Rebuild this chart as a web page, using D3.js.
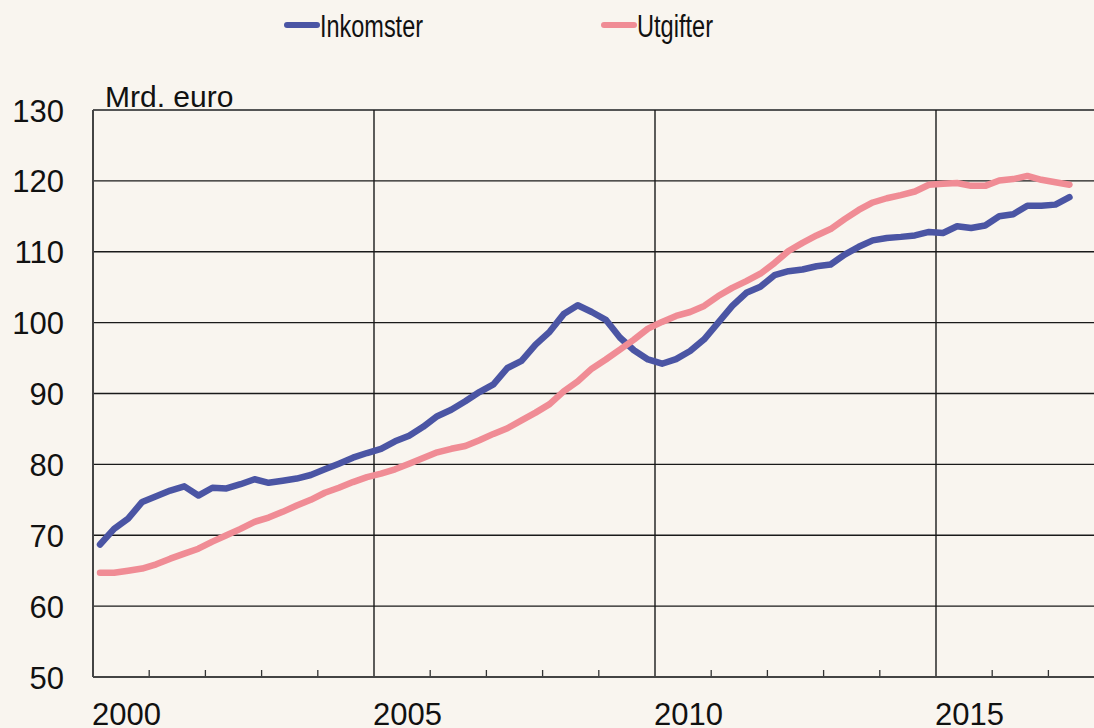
<!DOCTYPE html>
<html>
<head>
<meta charset="utf-8">
<script src="https://cdn.jsdelivr.net/npm/d3@7"></script>
<style>
  html, body { margin: 0; padding: 0; background: #f9f5ef; }
  svg { display: block; }
</style>
</head>
<body>
<div id="chart"></div>
<script>
////////////////////////////////////////////////////////////////////////////////
// Data (quarterly, Mrd. euro)
////////////////////////////////////////////////////////////////////////////////
var firstYear = 2000;
var quarters = [];
for (var q = 0; q < 70; q++) {
   quarters.push((firstYear + Math.floor(q / 4)) + "K" + (q % 4 + 1));
}

var inkomster = [
   68.7, 70.9, 72.35, 74.7, 75.5, 76.3, 76.9, 75.6, 76.7, 76.6,
   77.2, 77.9, 77.4, 77.7, 78.0, 78.5, 79.3, 80.1, 80.95, 81.6,
   82.2, 83.25, 84.05, 85.3, 86.8, 87.7, 88.9, 90.2, 91.3, 93.6,
   94.6, 96.9, 98.7, 101.2, 102.45, 101.5, 100.4, 97.9, 96.1, 94.8,
   94.2, 94.85, 96.0, 97.65, 100.0, 102.35, 104.2, 105.05, 106.7, 107.25,
   107.5, 107.95, 108.2, 109.6, 110.7, 111.6, 111.95, 112.1, 112.3, 112.8,
   112.65, 113.6, 113.35, 113.7, 115.0, 115.3, 116.5, 116.5, 116.65, 117.7
];

var utgifter = [
   64.7, 64.7, 65.0, 65.3, 65.9, 66.7, 67.4, 68.1, 69.1, 70.0,
   70.9, 71.9, 72.5, 73.3, 74.2, 75.0, 76.0, 76.7, 77.5, 78.2,
   78.7, 79.3, 80.1, 80.9, 81.7, 82.2, 82.6, 83.4, 84.3, 85.1,
   86.2, 87.3, 88.5, 90.3, 91.7, 93.5, 94.8, 96.2, 97.6, 99.15,
   100.1, 100.95, 101.5, 102.35, 103.75, 104.9, 105.85, 106.9, 108.4, 110.1,
   111.25, 112.3, 113.2, 114.6, 115.9, 116.95, 117.55, 118.0, 118.5, 119.45,
   119.6, 119.7, 119.3, 119.3, 120.05, 120.25, 120.7, 120.15, 119.8, 119.45
];

var yTicks = [50, 60, 70, 80, 90, 100, 110, 120, 130];
var yearLabels = [2000, 2005, 2010, 2015];
var minorYears = [2001, 2002, 2003, 2004, 2006, 2007, 2008, 2009, 2011, 2012, 2013, 2014, 2016, 2017];
var seriesNames = ["Inkomster", "Utgifter"];
var seriesColors = ["#4b55a4", "#f08c95"];
var unitLabel = "Mrd. euro";

////////////////////////////////////////////////////////////////////////////////
// Setup
////////////////////////////////////////////////////////////////////////////////
var width = 1094, height = 728;
var plotLeft = 93, plotTop = 110, plotBottom = 677;

var svg = d3.select("#chart").append("svg")
   .attr("width", width)
   .attr("height", height)
   .style("background", "#f9f5ef")
   .style("font-family", "Arial, 'Liberation Sans', sans-serif");

var x = d3.scaleLinear().domain([2000, 2018]).range([plotLeft, plotLeft + 56.2 * 18]);
var y = d3.scaleLinear().domain([50, 130]).range([plotBottom, plotTop]);

// x position of a quarter = middle of the quarter
function qx(i) {
   return x(firstYear + Math.floor(i / 4) + (i % 4) * 0.25 + 0.125);
}

////////////////////////////////////////////////////////////////////////////////
// Grid and axes
////////////////////////////////////////////////////////////////////////////////
svg.append("g").selectAll("line")
   .data(yTicks.filter(function (d) { return d > 50 && d < 130; }))
   .enter().append("line")
   .attr("x1", plotLeft).attr("x2", width)
   .attr("y1", function (d) { return y(d); })
   .attr("y2", function (d) { return y(d); })
   .attr("stroke", "#1a1a1a")
   .attr("stroke-width", 1.4);

// top border
svg.append("line")
   .attr("x1", plotLeft).attr("x2", width)
   .attr("y1", y(130)).attr("y2", y(130))
   .attr("stroke", "#555").attr("stroke-width", 2);

// vertical gridlines
svg.append("g").selectAll("line")
   .data(yearLabels.filter(function (d) { return d > 2000; }))
   .enter().append("line")
   .attr("x1", function (d) { return x(d); })
   .attr("x2", function (d) { return x(d); })
   .attr("y1", plotTop).attr("y2", plotBottom)
   .attr("stroke", "#1a1a1a")
   .attr("stroke-width", 1.4);

// minor year ticks
svg.append("g").selectAll("line")
   .data(minorYears)
   .enter().append("line")
   .attr("x1", function (d) { return x(d); })
   .attr("x2", function (d) { return x(d); })
   .attr("y1", plotBottom - 7).attr("y2", plotBottom)
   .attr("stroke", "#333")
   .attr("stroke-width", 1.3);

// left axis and bottom axis
svg.append("line")
   .attr("x1", plotLeft).attr("x2", plotLeft)
   .attr("y1", plotTop).attr("y2", plotBottom)
   .attr("stroke", "#444").attr("stroke-width", 2);
svg.append("line")
   .attr("x1", plotLeft).attr("x2", width)
   .attr("y1", plotBottom).attr("y2", plotBottom)
   .attr("stroke", "#444").attr("stroke-width", 2);

// y labels
svg.append("g").selectAll("text")
   .data(yTicks)
   .enter().append("text")
   .attr("x", 64)
   .attr("y", function (d) { return y(d) + 11.5; })
   .attr("text-anchor", "end")
   .attr("font-size", "31px")
   .attr("fill", "#111")
   .text(function (d) { return d; });

// x labels
svg.append("g").selectAll("text")
   .data(yearLabels)
   .enter().append("text")
   .attr("x", function (d) { return x(d) - 1; })
   .attr("y", 725)
   .attr("text-anchor", "start")
   .attr("font-size", "31px")
   .attr("fill", "#111")
   .text(function (d) { return d; });

svg.append("text")
   .attr("x", 105).attr("y", 107)
   .attr("font-size", "30px")
   .attr("fill", "#111")
   .text(unitLabel);

////////////////////////////////////////////////////////////////////////////////
// Lines
////////////////////////////////////////////////////////////////////////////////
var line = d3.line()
   .x(function (d, i) { return qx(i); })
   .y(function (d) { return y(d); });

[inkomster, utgifter].forEach(function (series, k) {
   svg.append("path")
      .datum(series)
      .attr("d", line)
      .attr("fill", "none")
      .attr("stroke", seriesColors[k])
      .attr("stroke-width", 6.5)
      .attr("stroke-linejoin", "round")
      .attr("stroke-linecap", "round");
});

////////////////////////////////////////////////////////////////////////////////
// Legend
////////////////////////////////////////////////////////////////////////////////
var legendX = [287, 604];
var legendW = [103, 76];
seriesNames.forEach(function (name, k) {
   svg.append("line")
      .attr("x1", legendX[k]).attr("x2", legendX[k] + 30)
      .attr("y1", 25).attr("y2", 25)
      .attr("stroke", seriesColors[k])
      .attr("stroke-width", 6)
      .attr("stroke-linecap", "round");
   svg.append("text")
      .attr("x", legendX[k] + 33).attr("y", 36.5)
      .attr("font-size", "31px")
      .attr("fill", "#111")
      .attr("textLength", legendW[k])
      .attr("lengthAdjust", "spacingAndGlyphs")
      .text(name);
});
</script>
</body>
</html>
